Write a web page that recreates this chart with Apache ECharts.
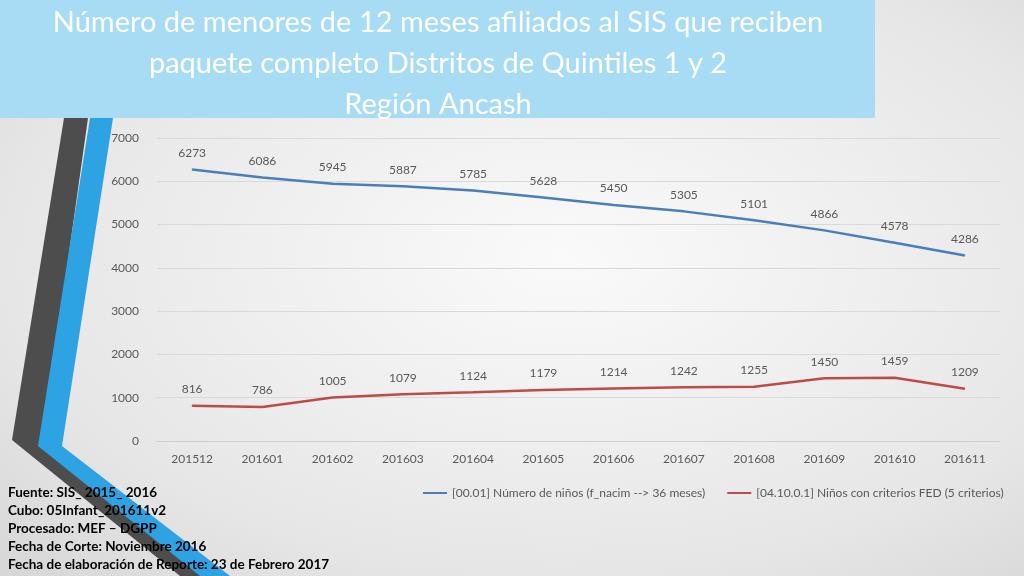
<!DOCTYPE html>
<html><head><meta charset="UTF-8">
<script src="https://cdn.jsdelivr.net/npm/echarts@6/dist/echarts.min.js"></script>
<style>body{margin:0}#c{width:1024px;height:576px;background:radial-gradient(ellipse at 55% 45%,#fafafa 0%,#e6e6e6 70%,#d6d6d6 100%)}</style>
</head><body><div id="c"></div>
<script>
const periods = ['201512','201601','201602','201603','201604','201605','201606','201607','201608','201609','201610','201611'];
const ninos = [6273,6086,5945,5887,5785,5628,5450,5305,5101,4866,4578,4286];
const fed = [816,786,1005,1079,1124,1179,1214,1242,1255,1450,1459,1209];
const names = ['[00.01] Número de niños (f_nacim --> 36 meses)','[04.10.0.1] Niños con criterios FED (5 criterios)'];
const footer = ['Fuente: SIS_ 2015_ 2016','Cubo: 05Infant_201611v2','Procesado: MEF – DGPP','Fecha de Corte: Noviembre 2016','Fecha de elaboración de Reporte: 23 de Febrero 2017'];

const chart = echarts.init(document.getElementById('c'));
const lbl = {show:true, position:'top', distance:10, color:'#595959', fontSize:12};
chart.setOption({
  textStyle:{fontFamily:'Lato, "Open Sans", sans-serif'},
  grid:{left:157, right:24, top:138, bottom:135},
  legend:{data:names, left:418, top:482, itemGap:22, itemWidth:24, itemHeight:2, icon:'rect',
    textStyle:{color:'#595959', fontSize:12}},
  xAxis:{type:'category', data:periods, boundaryGap:true,
    axisLine:{lineStyle:{color:'#d0d0d0'}}, axisTick:{show:false},
    axisLabel:{color:'#595959', fontSize:12, margin:12}},
  yAxis:{type:'value', min:0, max:7000, interval:1000,
    axisLabel:{color:'#595959', fontSize:12, margin:18, formatter:v=>String(v)},
    splitLine:{lineStyle:{color:'#d9d9d9'}}},
  series:[
    {name:names[0], type:'line', data:ninos, symbol:'circle', symbolSize:1, showSymbol:true, lineStyle:{color:'#4a7ebb', width:2.5}, itemStyle:{color:'#4a7ebb'}, label:lbl},
    {name:names[1], type:'line', data:fed, symbol:'circle', symbolSize:1, showSymbol:true, lineStyle:{color:'#be4b48', width:2.5}, itemStyle:{color:'#be4b48'}, label:lbl}
  ],
  graphic:[
    {type:'polygon', z:-1, shape:{points:[[64,118],[88,118],[42,445],[212,576],[180,576],[12,440]]}, style:{fill:'#4d4d4d'}},
    {type:'polygon', z:-1, shape:{points:[[90,118],[113,118],[62,446],[230,576],[200,576],[38,446]]}, style:{fill:'#2ea3e3'}},
    {type:'rect', shape:{x:0,y:0,width:875,height:118}, style:{fill:'#a8dcf5'}},
    {type:'text', x:438, y:2, style:{text:'Número de menores de 12 meses afiliados al SIS que reciben\npaquete completo Distritos de Quintiles 1 y 2\nRegión Ancash',
      fill:'#fff', fontSize:29, lineHeight:41, align:'center', fontFamily:'Lato, sans-serif'}},
    {type:'text', x:8, y:484, style:{text:footer.join('\n'), fill:'#000', fontSize:13.5, fontWeight:'bold', lineHeight:18, fontFamily:'Lato, sans-serif'}}
  ]
});
</script></body></html>
